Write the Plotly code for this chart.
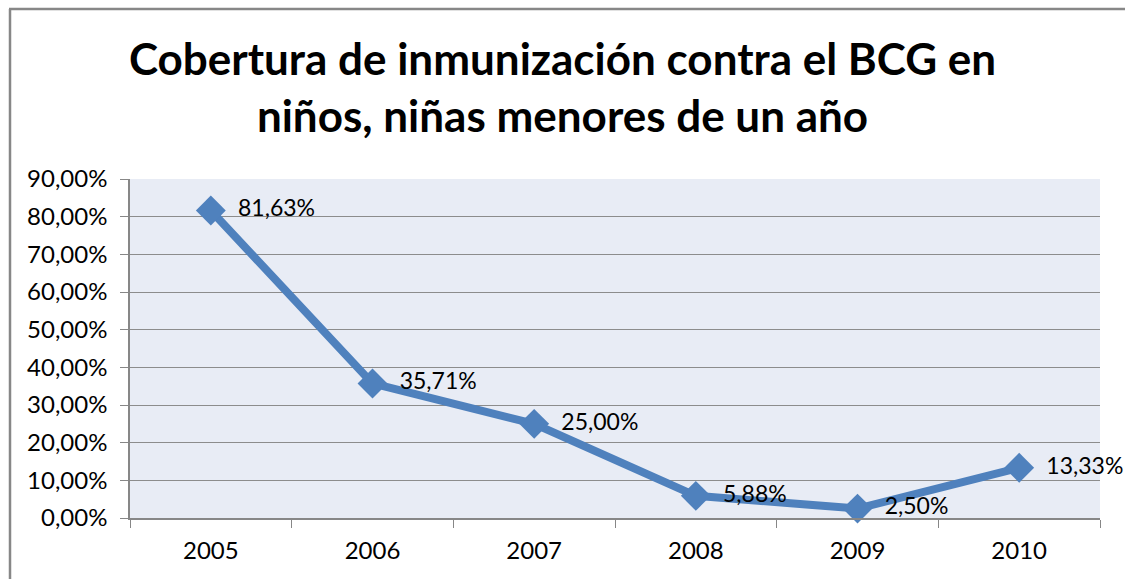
import plotly.graph_objects as go

years = ["2005", "2006", "2007", "2008", "2009", "2010"]
coverage = [81.63, 35.71, 25.00, 5.88, 2.50, 13.33]
labels = ["81,63%", "35,71%", "25,00%", "5,88%", "2,50%", "13,33%"]
ytick_vals = [0, 10, 20, 30, 40, 50, 60, 70, 80, 90]
ytick_text = ["0,00%", "10,00%", "20,00%", "30,00%", "40,00%", "50,00%",
              "60,00%", "70,00%", "80,00%", "90,00%"]

FONT = "Lato, 'Open Sans', sans-serif"

fig = go.Figure()
fig.add_trace(go.Scatter(
    x=years, y=coverage, mode="lines+markers+text",
    line=dict(color="#4F81BD", width=8),
    marker=dict(symbol="diamond", size=23, color="#4F81BD"),
    text=["  " + t for t in labels], textposition="middle right",
    textfont=dict(family=FONT, size=23, color="#000000"),
    cliponaxis=False, showlegend=False,
))

W, H = 1125, 579
L, R, T, B = 130, 25, 179, 61
pw, ph = W - L - R, H - T - B
def px(x): return (x - L) / pw
def py(y): return (H - B - y) / ph

fig.update_layout(
    width=W, height=H,
    margin=dict(l=L, r=R, t=T, b=B),
    paper_bgcolor="white", plot_bgcolor="#E8ECF5",
    title=dict(text="<b>Cobertura de inmunización contra el BCG en<br>niños, niñas menores de un año</b>",
               x=0.5, xanchor="center", y=1 - 75 / H, yanchor="middle",
               font=dict(family=FONT, size=44, color="#000000")),
    xaxis=dict(type="category", range=[-0.5, 5.5], showgrid=False, ticks="outside",
               tickson="boundaries",
               ticklen=8, tickcolor="#878787", showline=True, linecolor="#878787", linewidth=1.5,
               tickfont=dict(family=FONT, size=24, color="#000000"), ticklabelstandoff=10),
    yaxis=dict(range=[0, 90], tickvals=ytick_vals, ticktext=ytick_text,
               showgrid=True, gridcolor="#8C8C8C", gridwidth=1.3, zeroline=False,
               ticks="outside", ticklen=8, tickcolor="#878787",
               showline=True, linecolor="#878787", linewidth=1.5,
               tickfont=dict(family=FONT, size=24, color="#000000"), ticklabelstandoff=8),
    shapes=[
        dict(type="line", xref="paper", yref="paper", x0=px(9), x1=px(1130), y0=py(9), y1=py(9),
             line=dict(color="#878787", width=2.5)),
        dict(type="line", xref="paper", yref="paper", x0=px(10), x1=px(10), y0=py(9), y1=py(590),
             line=dict(color="#878787", width=2.5)),
    ],
)

fig.write_html(
    "out.html",
    config={"displayModeBar": False},
    post_script="document.body.style.margin='0';document.body.style.overflow='hidden';",
)
